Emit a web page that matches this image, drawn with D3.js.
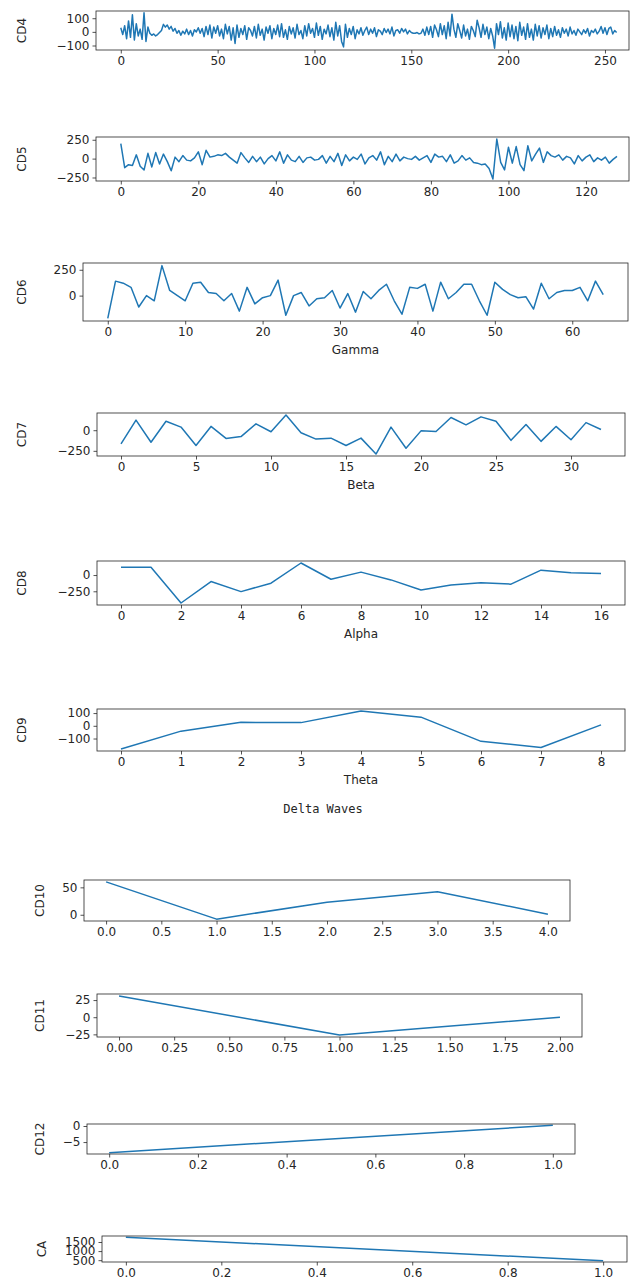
<!DOCTYPE html>
<html>
<head>
<meta charset="utf-8">
<script src="https://cdn.jsdelivr.net/npm/d3@7"></script>
<style>
  body { margin: 0; background: #fff; }
  svg text { font-family: "DejaVu Sans", sans-serif; fill: #262626; }
</style>
</head>
<body>
<svg id="chart" width="632" height="1280"></svg>
<script>
// wavelet detail coefficients
const cd4 = [
  30, -20, 45, -50, 80, -40, 125, -60, 60, -30,
  20, -55, 140, -70, 35, -10, -25, -15, -30, -20,
  -5, 10, 55, 35, 50, 20, 40, 5, 25, -10,
  10, -25, 5, -15, 20, -20, 10, -30, 15, 0,
  30, -10, 25, -35, 40, -20, 50, -45, 35, -10,
  45, -30, 20, -50, 55, -15, 40, -60, 30, -85,
  50, -40, 25, -20, 45, -55, 30, 10, -30, 40,
  -45, 55, -25, 20, -60, 35, -10, 45, -50, 25,
  -20, 50, -35, 60, -40, 15, -55, 40, -15, 30,
  -45, 55, -20, 10, -50, 45, -30, 60, -10, 25,
  -40, 65, -25, 40, -55, 20, -15, 50, -35, 30,
  -60, 70, -30, 45, -70, -110, 55, -40, 25, -20,
  40, -50, 15, -15, 30, -25, 10, 35, -20, 20,
  -10, 30, -35, 15, 5, -20, 25, -5, 20, -15,
  35, -30, 10, 15, -10, 25, 0, 20, -15, 10,
  -5, -10, -10, -5, -15, -10, 20, -25, 35, -20,
  40, -40, 50, 15, -35, 60, -20, 45, -50, 70,
  -30, 130, 20, -40, 60, 10, -45, 50, -30, 20,
  -55, 40, 10, -35, 85, 30, -40, 55, -20, 35,
  -50, 25, -30, -120, 60, -20, 75, -45, 30, -60,
  65, -35, 50, -50, 40, -65, 70, -25, 35, -55,
  60, -40, 20, -60, 55, -30, 45, -45, 30, -20,
  50, -50, 25, -35, 40, -25, 15, -40, 30, -10,
  20, -30, 35, -15, 10, -25, 20, 0, -20, 15,
  -10, 25, -30, 10, -5, 20, -15, 5, 40, -10,
  30, -20, 25, 35, -15, 10, -5
];
const cd5 = [
  200, -120, -80, -90, 50, -100, -150, 70, -110, 80,
  -70, 60, -40, -160, 20, -40, 40, -20, -30, 10,
  90, -80, 110, 20, 30, 50, 40, 70, 20, -20,
  -60, 80, 10, -50, 30, -40, 20, -70, 0, 40,
  -30, 90, -60, 50, -20, -40, 30, -50, 10, 20,
  -20, -10, 40, -60, 30, -40, 70, -90, 50, -30,
  20, -10, 60, -70, 10, 40, -20, 90, -80, 30,
  -40, 60, -30, 20, 0, -10, 30, -20, 10, 40,
  -50, 60, 20, 30, -40, 50, -60, -30, 40, -20,
  10, -50, -60, -80, -70, -130, -270, 260, -50, -150,
  150, -60, 160, -80, -160, 170, -30, 60, 140, -50,
  90, 40, 20, 50, -20, 30, 10, -70, 40, -30,
  20, 50, -40, 10, -20, 20, -60, -10, 30
];
const cd6 = [
  -220, 140, 120, 80, -110, 0, -50, 290, 50, 0,
  -50, 120, 130, 30, 20, -50, 20, -150, 80, -80,
  -20, 0, 150, -190, 0, 30, -100, -30, -20, 50,
  -120, 20, -160, 40, -30, 50, 110, -50, -180, 80,
  70, 110, -150, 130, -30, 30, 110, 110, -50, -190,
  130, 60, 10, -20, -10, -130, 120, -30, 30, 50,
  50, 80, -50, 140, 10
];
const cd7 = [
  -165, 123, -146, 108, 38, -185, 46, -100, -77, 77,
  -19, 185, -31, -108, -96, -185, -96, -289, 38, -219,
  -8, -15, 154, 65, 162, 108, -123, 69, -135, 46,
  -115, 92, 8
];
const cd8 = [120, 120, -430, -100, -255, -125, 185, -65, 45, -75, -230, -155, -120, -140, 75, 35, 25];
const cd9 = [-183, -42, 27, 25, 117, 68, -122, -170, 7];
const cd10 = [60, -8, 23, 42, 1];
const cd11 = [31, -26, 0];
const cd12 = [-8.3, 0.2];
const ca = [1765, 465];

const names = ["CD4", "CD5", "CD6", "CD7", "CD8", "CD9", "CD10", "CD11", "CD12", "CA"];
const series = [cd4, cd5, cd6, cd7, cd8, cd9, cd10, cd11, cd12, ca];
const xLabels = ["", "", "Gamma", "Beta", "Alpha", "Theta", "", "", "", ""];
const xTickStep = [50, 20, 10, 5, 2, 1, 0.5, 0.25, 0.2, 0.2];
const xTickFmt = ["d", "d", "d", "d", "d", "d", ".1f", ".2f", ".1f", ".1f"];
const yTicks = [
  [-100, 0, 100], [-250, 0, 250], [0, 250], [-250, 0], [-250, 0],
  [-100, 0, 100], [0, 50], [-25, 0, 25], [-5, 0], [500, 1000, 1500]
];
const title = "Delta Waves";

// frame of each subplot: left, right, top, bottom (px) and label x
const layout = [
  { l: 96, r: 629, t: 11, b: 50, lab: 22, xr: 262.4 },
  { l: 96, r: 629, t: 137, b: 181, lab: 22, xr: 131.1 },
  { l: 83, r: 628, t: 263, b: 321, lab: 22 },
  { l: 97, r: 625, t: 413, b: 456, lab: 22 },
  { l: 97, r: 625, t: 561, b: 605, lab: 22 },
  { l: 97, r: 625, t: 709, b: 751, lab: 22 },
  { l: 84, r: 570, t: 880, b: 921, lab: 40 },
  { l: 97, r: 582, t: 994, b: 1037, lab: 40 },
  { l: 87, r: 575, t: 1124, b: 1154, lab: 40 },
  { l: 102, r: 627, t: 1236, b: 1262, lab: 42 }
];

const svg = d3.select("#chart");
const lineColor = "#1f77b4";

series.forEach((data, k) => {
  const lay = layout[k];
  const n = data.length - 1;
  const xr = lay.xr !== undefined ? lay.xr : n * 1.05;
  const x = d3.scaleLinear().domain([-0.05 * n, xr]).range([lay.l, lay.r]);

  const [mn, mx] = d3.extent(data);
  const pad = (mx - mn) * 0.05;
  const y = d3.scaleLinear().domain([mn - pad, mx + pad]).range([lay.b, lay.t]);

  const g = svg.append("g");

  // clip for the line
  const clipId = "clip" + k;
  svg.append("clipPath").attr("id", clipId)
    .append("rect")
    .attr("x", lay.l).attr("y", lay.t)
    .attr("width", lay.r - lay.l).attr("height", lay.b - lay.t);

  const line = d3.line()
    .x((d, i) => x(i))
    .y(d => y(d));

  g.append("path")
    .datum(data)
    .attr("clip-path", `url(#${clipId})`)
    .attr("fill", "none")
    .attr("stroke", lineColor)
    .attr("stroke-width", 1.5)
    .attr("stroke-linejoin", "round")
    .attr("d", line);

  // axes
  const xt = d3.range(0, n + 1e-9, xTickStep[k]);
  const xAxis = d3.axisBottom(x)
    .tickValues(xt)
    .tickFormat(d3.format(xTickFmt[k]))
    .tickSize(3.5)
    .tickPadding(3);
  const yAxis = d3.axisLeft(y)
    .tickValues(yTicks[k])
    .tickFormat(d3.format("d"))
    .tickSize(3.5)
    .tickPadding(3);

  const gx = g.append("g")
    .attr("transform", `translate(0,${lay.b})`)
    .call(xAxis);
  const gy = g.append("g")
    .attr("transform", `translate(${lay.l},0)`)
    .call(yAxis);

  [gx, gy].forEach(a => {
    a.select(".domain").remove();
    a.selectAll(".tick line").attr("stroke", "#262626").attr("stroke-width", 0.8);
    a.selectAll(".tick text")
      .style("font-family", "DejaVu Sans, sans-serif")
      .style("font-size", "12px")
      .attr("fill", "#262626");
  });

  // frame
  g.append("rect")
    .attr("x", lay.l).attr("y", lay.t)
    .attr("width", lay.r - lay.l).attr("height", lay.b - lay.t)
    .attr("fill", "none")
    .attr("stroke", "#262626")
    .attr("stroke-width", 0.8);

  // y label
  g.append("text")
    .attr("transform", `translate(${lay.lab},${(lay.t + lay.b) / 2}) rotate(-90)`)
    .attr("text-anchor", "middle")
    .attr("dy", "0.35em")
    .style("font-size", "12px")
    .text(names[k]);

  // x label
  if (xLabels[k]) {
    g.append("text")
      .attr("x", (lay.l + lay.r) / 2)
      .attr("y", lay.b + 33)
      .attr("text-anchor", "middle")
      .style("font-size", "12px")
      .text(xLabels[k]);
  }
});

// section title
svg.append("text")
  .attr("x", 323)
  .attr("y", 813)
  .attr("text-anchor", "middle")
  .style("font-family", "DejaVu Sans Mono, monospace")
  .style("font-size", "12px")
  .text(title);
</script>
</body>
</html>
